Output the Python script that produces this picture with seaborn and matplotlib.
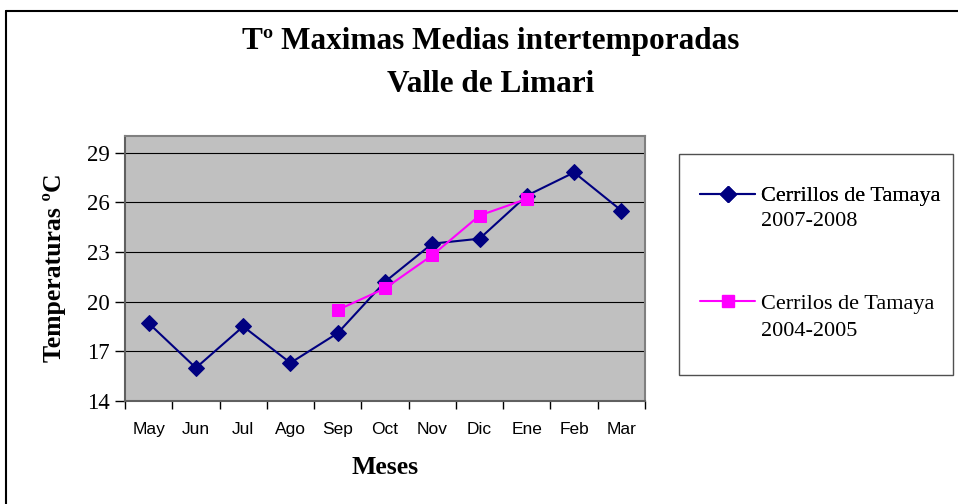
import numpy as np
import pandas as pd
import seaborn as sns
import matplotlib.pyplot as plt
from matplotlib.lines import Line2D
from matplotlib.patches import Rectangle

months = ["May", "Jun", "Jul", "Ago", "Sep", "Oct", "Nov", "Dic", "Ene", "Feb", "Mar"]
temps_0708 = [18.7, 16.0, 18.5, 16.3, 18.1, 21.2, 23.5, 23.8, 26.4, 27.8, 25.5]
months_0405 = ["Sep", "Oct", "Nov", "Dic", "Ene"]
temps_0405 = [19.5, 20.8, 22.8, 25.2, 26.2]
yticks = [14, 17, 20, 23, 26, 29]

name_a = "Cerrillos de Tamaya"
years_a = "2007-2008"
name_b = "Cerrilos de Tamaya"
years_b = "2004-2005"

navy = "#000080"
magenta = "#FF00FF"

sns.set_theme(style="white")
plt.rcParams["font.family"] = ["Liberation Serif", "DejaVu Serif"]
plt.rcParams["text.color"] = "black"
plt.rcParams["axes.labelcolor"] = "black"
plt.rcParams["xtick.color"] = "black"
plt.rcParams["ytick.color"] = "black"

W, H = 958, 504
fig = plt.figure(figsize=(W / 100, H / 100), dpi=100)
ax = fig.add_axes([125 / W, 1 - 401 / H, 520 / W, 265 / H])
ax.set_facecolor("#C0C0C0")

df_a = pd.DataFrame({"mes": months, "temp": temps_0708})
df_b = pd.DataFrame({"mes": months_0405, "temp": temps_0405})

sns.lineplot(data=df_a, x="mes", y="temp", ax=ax, color=navy, marker="D",
             markersize=8, markeredgecolor=navy, linewidth=1.5, sort=False)
sns.lineplot(data=df_b, x="mes", y="temp", ax=ax, color=magenta, marker="s",
             markersize=8.5, markeredgecolor=magenta, linewidth=1.5, sort=False)

ax.set_xlim(-0.5, len(months) - 0.5)
ax.set_ylim(14, 30)
ax.set_yticks(yticks)
ax.set_yticklabels([str(v) for v in yticks], fontsize=16.5)
ax.set_xticks(range(len(months)))
ax.set_xticklabels(months, fontsize=12.5, family="Liberation Sans")
ax.set_xticks(np.arange(-0.5, len(months)), minor=True)
ax.tick_params(axis="x", which="major", length=0, pad=15)
ax.tick_params(axis="x", which="minor", length=6, width=1, color="black", direction="out", bottom=True)
ax.tick_params(axis="y", length=7, width=1, color="black", direction="out", left=True, pad=4)

for v in yticks[1:]:
    ax.axhline(v, color="black", linewidth=0.8, zorder=1)

for side in ["top", "right"]:
    ax.spines[side].set_color("#808080")
    ax.spines[side].set_linewidth(1.5)
for side in ["left", "bottom"]:
    ax.spines[side].set_color("#606060")
    ax.spines[side].set_linewidth(1.5)

ax.set_xlabel("")
ax.set_ylabel("")

fig.text(491 / W, 1 - 42 / H, "Tº Maximas Medias intertemporadas", ha="center", va="center",
         fontsize=22.5, fontweight="bold")
fig.text(491 / W, 1 - 84 / H, "Valle de Limari", ha="center", va="center",
         fontsize=22.5, fontweight="bold")
fig.text(385 / W, 1 - 467 / H, "Meses", ha="center", va="center", fontsize=18.5, fontweight="bold")
fig.text(55 / W, 1 - 268 / H, "Temperaturas ºC", ha="center", va="center", fontsize=18.5,
         fontweight="bold", rotation=90)

# legend box
fig.patches.append(Rectangle((679 / W, 1 - 375 / H), 274 / W, 221 / H, transform=fig.transFigure,
                             facecolor="white", edgecolor="#505050", linewidth=1))

h_a = Line2D([], [], color=navy, marker="D", markersize=8, linewidth=1.5)
h_b = Line2D([], [], color=magenta, marker="s", markersize=8.5, linewidth=1.5)
fs_leg = 16
em = fs_leg * 100 / 72
leg_kw = dict(loc="center left", frameon=False, fontsize=fs_leg, borderpad=0, handlelength=55 / em,
              handletextpad=6 / em, borderaxespad=0)
leg_a = fig.legend(handles=[h_a], labels=[name_a], bbox_to_anchor=(700 / W, 1 - 196 / H), **leg_kw)
leg_b = fig.legend(handles=[h_b], labels=[name_b], bbox_to_anchor=(700 / W, 1 - 304 / H), **leg_kw)
fig.add_artist(leg_a)
fig.text(761 / W, 1 - 222 / H, years_a, ha="left", va="center", fontsize=fs_leg)
fig.text(761 / W, 1 - 331 / H, years_b, ha="left", va="center", fontsize=fs_leg)

# outer chart border (left and top edges)
fig.add_artist(Line2D([6 / W, 6 / W], [0, 1 - 11 / H], transform=fig.transFigure, color="black", linewidth=1.5))
fig.add_artist(Line2D([6 / W, 1], [1 - 11 / H, 1 - 11 / H], transform=fig.transFigure, color="black", linewidth=1.5))

fig.savefig("out.png", dpi=100)
